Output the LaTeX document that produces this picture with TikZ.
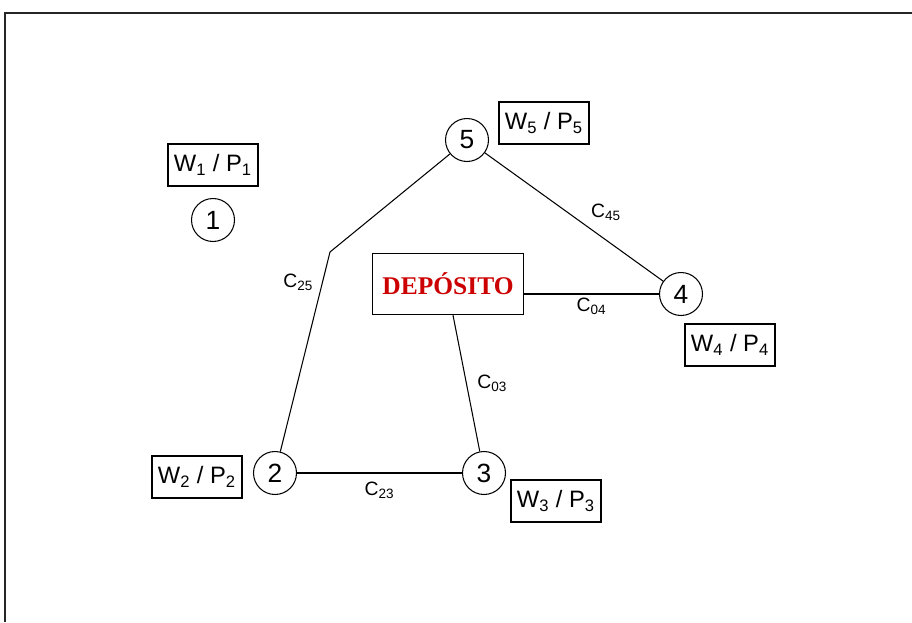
\documentclass[tikz,border=0pt]{standalone}
\usepackage{fontspec}
\setmainfont{Liberation Sans}
\newfontfamily\depotfont{Liberation Serif}
\usepackage{tikz}
\usepackage{xcolor}
\usetikzlibrary{positioning}
\definecolor{depred}{HTML}{CC0000}
\tikzset{
  site/.style={circle, draw, line width=0.6pt, minimum size=0.86cm,
               inner sep=0pt, font=\fontsize{15}{15}\selectfont},
  weight/.style={draw, line width=0.8pt, minimum width=1.8cm,
                 minimum height=0.84cm, inner sep=2pt,
                 font=\fontsize{13.5}{14}\selectfont},
  depot/.style={draw, line width=0.8pt, minimum width=3.02cm,
                minimum height=1.22cm, text=depred,
                font=\depotfont\bfseries\fontsize{14.5}{15}\selectfont},
  cost/.style={font=\fontsize{11}{12}\selectfont, inner sep=2pt},
  route/.style={line width=0.6pt},
}

\begin{document}
\begin{tikzpicture}[x=0.02cm, y=-0.02cm]
  \useasboundingbox (0,0) rectangle (912,622);
  % outer frame, running off the page at right and bottom
  \draw[line width=1.2pt, draw=black!85] (5,622) -- (5,13) -- (912,13);

  % customers and depot
  \node[site] (n1) at (213,220) {1};
  \node[site] (n2) at (275,473) {2};
  \node[site] (n3) at (484,473) {3};
  \node[site] (n4) at (681,294) {4};
  \node[site] (n5) at (467,140) {5};
  \node[depot] (dep) at (448,284) {DEP\'OSITO};

  % demand / weight boxes
  \node[weight] (w1) at (213,165) {W\textsubscript{1} / P\textsubscript{1}};
  \node[weight] (w2) at (197,477) {W\textsubscript{2} / P\textsubscript{2}};
  \node[weight] (w3) at (556,501) {W\textsubscript{3} / P\textsubscript{3}};
  \node[weight] (w4) at (730,345) {W\textsubscript{4} / P\textsubscript{4}};
  \node[weight] (w5) at (544,123) {W\textsubscript{5} / P\textsubscript{5}};

  % routes
  \coordinate (k25) at (330,252);
  \draw[route] (n5) -- (k25) -- node[cost, pos=0.15, left=3pt]
        {C\textsubscript{25}} (n2);
  \draw[route] (n5) -- node[cost, pos=0.68, above=9pt]
        {C\textsubscript{45}} (n4);
  \draw[route] (dep.east |- n4) -- node[cost, below] {C\textsubscript{04}} (n4);
  \draw[route] (dep.south) ++(5,0) coordinate (d3) -- node[cost, right=4pt]
        {C\textsubscript{03}} (n3);
  \draw[route] (n2) -- node[cost, below=3pt] {C\textsubscript{23}} (n3);
\end{tikzpicture}
\end{document}
